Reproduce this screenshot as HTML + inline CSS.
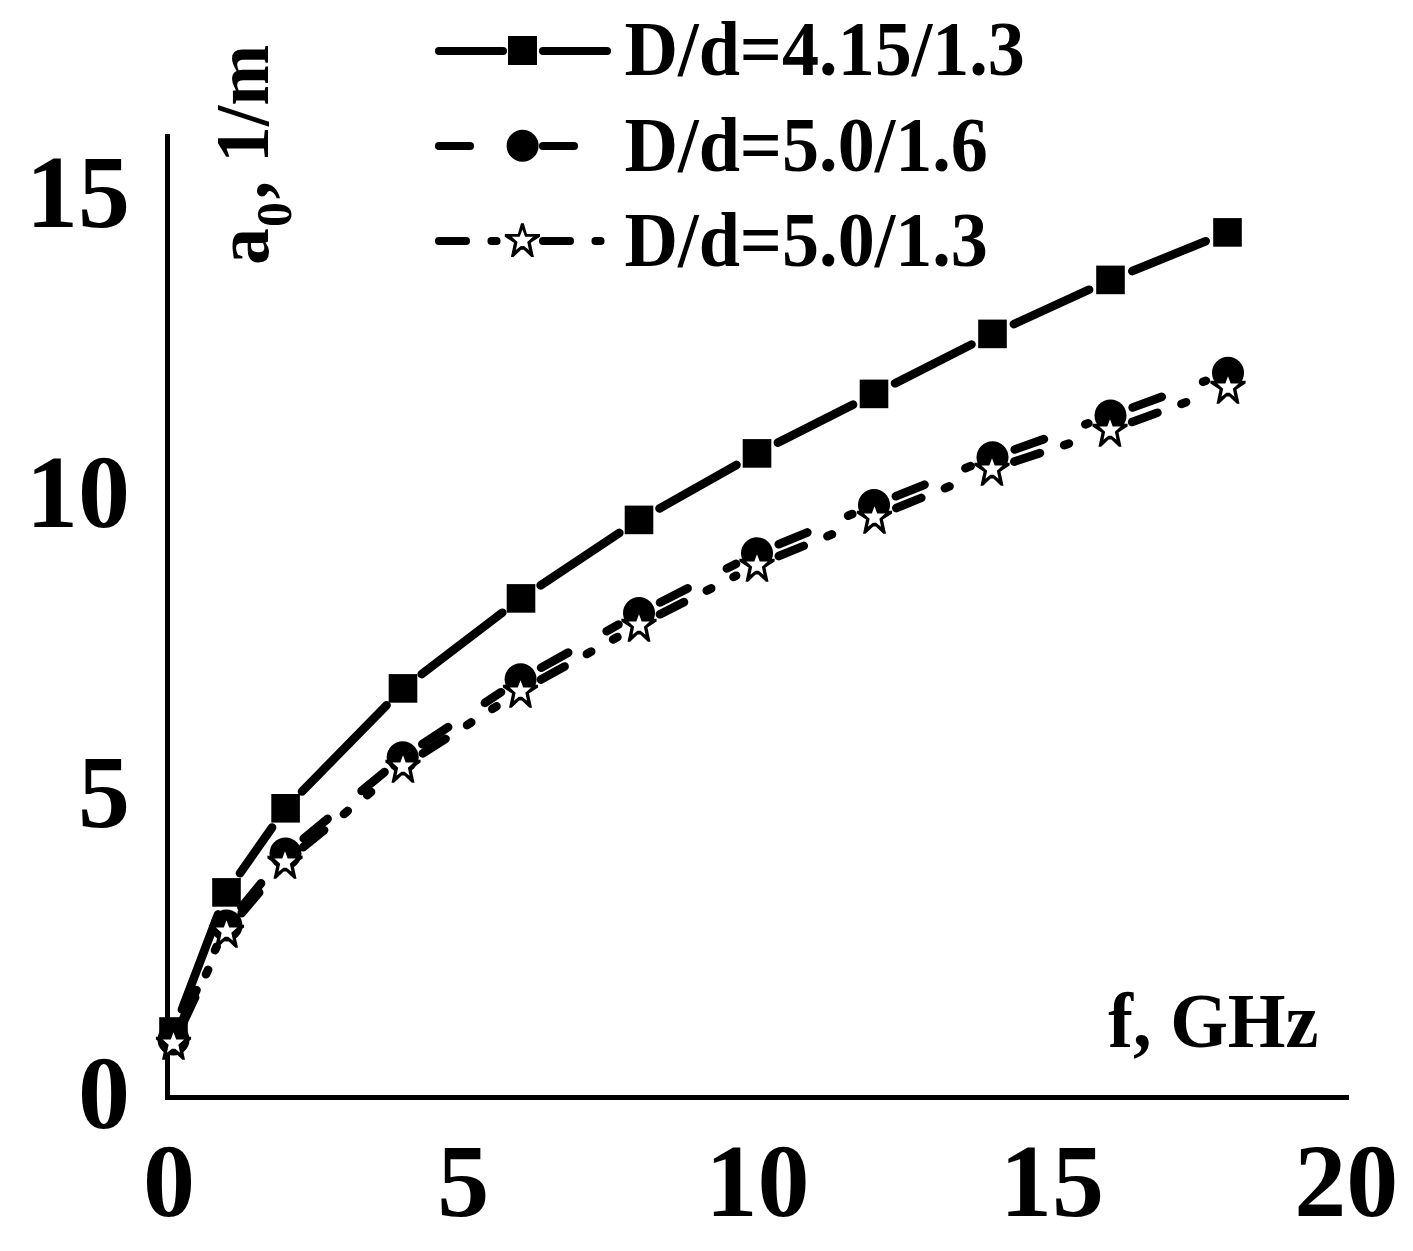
<!DOCTYPE html>
<html><head><meta charset="utf-8"><style>
html,body{margin:0;padding:0;background:#fff;}
svg{display:block;}
text{font-family:"Liberation Serif",serif;font-weight:bold;fill:#000;}
</style></head><body>
<svg width="1413" height="1251" viewBox="0 0 1413 1251">
<rect width="1413" height="1251" fill="#fff"/>
<rect x="165" y="134" width="5" height="966" fill="#000"/>
<rect x="165" y="1095" width="1184" height="5" fill="#000"/>
<text x="130" y="227" text-anchor="end" font-size="104">15</text>
<text x="130" y="527" text-anchor="end" font-size="104">10</text>
<text x="130" y="827" text-anchor="end" font-size="104">5</text>
<text x="130" y="1127.5" text-anchor="end" font-size="104">0</text>
<text x="169.0" y="1215.8" text-anchor="middle" font-size="104">0</text>
<text x="463.3" y="1215.8" text-anchor="middle" font-size="104">5</text>
<text x="757.6" y="1215.8" text-anchor="middle" font-size="104">10</text>
<text x="1051.9" y="1215.8" text-anchor="middle" font-size="104">15</text>
<text x="1346.2" y="1215.8" text-anchor="middle" font-size="104">20</text>
<text transform="translate(1108.3,1047) scale(0.958,1)" font-size="77.5">f, GHz</text>
<text transform="translate(268.2,265.1) rotate(-90) scale(0.96,1)" font-size="77">a</text>
<text transform="translate(290.5,226.9) rotate(-90)" font-size="50">0</text>
<text transform="translate(268.2,199.2) rotate(-90) scale(0.95,1)" font-size="77">, 1/m</text>
<text transform="translate(624.6,74.6) scale(0.956,1)" font-size="77.5">D/d=4.15/1.3</text>
<text transform="translate(624.6,170.9) scale(0.956,1)" font-size="77.5">D/d=5.0/1.6</text>
<text transform="translate(624.6,266.0) scale(0.956,1)" font-size="77.5">D/d=5.0/1.3</text>
<g stroke="#000" stroke-width="8.6" stroke-linecap="round" fill="none">
<line x1="181.9" y1="1009.5" x2="218.1" y2="914.4"/>
<line x1="240.0" y1="873.2" x2="272.1" y2="827.5"/>
<line x1="302.0" y1="791.5" x2="386.6" y2="705.2"/>
<line x1="421.7" y1="674.1" x2="502.3" y2="612.7"/>
<line x1="540.6" y1="585.4" x2="619.4" y2="532.9"/>
<line x1="659.5" y1="508.4" x2="736.5" y2="464.9"/>
<line x1="777.9" y1="442.7" x2="853.1" y2="404.6"/>
<line x1="895.0" y1="383.3" x2="971.5" y2="344.5"/>
<line x1="1013.9" y1="324.1" x2="1089.1" y2="289.7"/>
<line x1="1132.3" y1="271.1" x2="1205.7" y2="241.2"/>
</g>
<g fill="#000"><rect x="159.2" y="1017.2" width="28.6" height="28.6"/><rect x="212.2" y="878.1" width="28.6" height="28.6"/><rect x="271.3" y="794.0" width="28.6" height="28.6"/><rect x="388.7" y="674.1" width="28.6" height="28.6"/><rect x="506.7" y="584.1" width="28.6" height="28.6"/><rect x="624.7" y="505.6" width="28.6" height="28.6"/><rect x="742.7" y="439.1" width="28.6" height="28.6"/><rect x="859.7" y="379.6" width="28.6" height="28.6"/><rect x="978.2" y="319.6" width="28.6" height="28.6"/><rect x="1096.2" y="265.6" width="28.6" height="28.6"/><rect x="1213.2" y="218.1" width="28.6" height="28.6"/></g>
<g stroke="#000" stroke-width="8.6" stroke-linecap="round" fill="none">
<line x1="183.4" y1="1018.2" x2="216.6" y2="946.8" stroke-dasharray="31 44"/>
<line x1="241.4" y1="907.3" x2="270.6" y2="871.7" stroke-dasharray="31 44"/>
<line x1="303.7" y1="838.6" x2="384.5" y2="772.1" stroke-dasharray="31 44"/>
<line x1="422.3" y1="744.2" x2="501.0" y2="692.2" stroke-dasharray="31 44"/>
<line x1="541.1" y1="667.7" x2="618.5" y2="624.6" stroke-dasharray="31 44"/>
<line x1="660.0" y1="602.5" x2="736.0" y2="563.8" stroke-dasharray="31 44"/>
<line x1="778.7" y1="544.2" x2="852.3" y2="514.0" stroke-dasharray="31 44"/>
<line x1="895.8" y1="496.2" x2="970.7" y2="466.1" stroke-dasharray="31 44"/>
<line x1="1014.7" y1="449.5" x2="1088.3" y2="423.3" stroke-dasharray="31 44"/>
<line x1="1132.6" y1="407.5" x2="1205.9" y2="380.8" stroke-dasharray="31 44"/>
</g>
<g fill="#000"><circle cx="173.5" cy="1039.5" r="16.0"/><circle cx="226.5" cy="925.5" r="16.0"/><circle cx="285.5" cy="853.5" r="16.0"/><circle cx="402.7" cy="757.2" r="16.0"/><circle cx="520.6" cy="679.2" r="16.0"/><circle cx="639.0" cy="613.1" r="16.0"/><circle cx="757.0" cy="553.2" r="16.0"/><circle cx="874.0" cy="505.0" r="16.0"/><circle cx="992.5" cy="457.3" r="16.0"/><circle cx="1110.5" cy="415.5" r="16.0"/><circle cx="1228.0" cy="372.8" r="16.0"/></g>
<g stroke="#000" stroke-width="8.6" stroke-linecap="round" fill="none">
<line x1="183.6" y1="1021.8" x2="216.4" y2="952.2" stroke-dasharray="27 25.5 5 25 5 40"/>
<line x1="241.7" y1="913.1" x2="269.8" y2="879.9" stroke-dasharray="27 25.5 5 25 5 40"/>
<line x1="303.2" y1="847.2" x2="384.8" y2="780.8" stroke-dasharray="27 25.5 5 25 5 40"/>
<line x1="422.8" y1="753.4" x2="500.7" y2="703.6" stroke-dasharray="27 25.5 5 25 5 40"/>
<line x1="541.0" y1="679.6" x2="618.5" y2="636.4" stroke-dasharray="27 25.5 5 25 5 40"/>
<line x1="659.9" y1="614.3" x2="736.1" y2="575.7" stroke-dasharray="27 25.5 5 25 5 40"/>
<line x1="778.8" y1="556.1" x2="852.7" y2="525.9" stroke-dasharray="27 25.5 5 25 5 40"/>
<line x1="896.3" y1="508.1" x2="970.2" y2="477.9" stroke-dasharray="27 25.5 5 25 5 40"/>
<line x1="1014.3" y1="461.6" x2="1087.7" y2="437.4" stroke-dasharray="27 25.5 5 25 5 40"/>
<line x1="1132.1" y1="422.0" x2="1205.9" y2="395.0" stroke-dasharray="27 25.5 5 25 5 40"/>
</g>
<g><polygon points="172.10,1025.90 174.90,1025.90 178.00,1036.86 191.10,1036.86 191.10,1039.50 181.95,1045.60 185.00,1059.76 182.40,1059.76 174.80,1052.56 172.20,1052.56 164.60,1059.76 162.00,1059.76 165.05,1045.60 155.90,1039.50 155.90,1036.86 169.00,1036.86" fill="#000"/><polygon points="173.50,1032.20 176.20,1039.56 184.15,1039.56 178.35,1044.86 180.05,1052.82 175.10,1048.66 171.90,1048.66 166.95,1052.82 168.65,1044.86 162.85,1039.56 170.80,1039.56" fill="#fff"/><polygon points="225.10,913.90 227.90,913.90 231.00,924.86 244.10,924.86 244.10,927.50 234.95,933.60 238.00,947.76 235.40,947.76 227.80,940.56 225.20,940.56 217.60,947.76 215.00,947.76 218.05,933.60 208.90,927.50 208.90,924.86 222.00,924.86" fill="#000"/><polygon points="226.50,920.20 229.20,927.56 237.15,927.56 231.35,932.86 233.05,940.82 228.10,936.66 224.90,936.66 219.95,940.82 221.65,932.86 215.85,927.56 223.80,927.56" fill="#fff"/><polygon points="283.60,844.90 286.40,844.90 289.50,855.86 302.60,855.86 302.60,858.50 293.45,864.60 296.50,878.76 293.90,878.76 286.30,871.56 283.70,871.56 276.10,878.76 273.50,878.76 276.55,864.60 267.40,858.50 267.40,855.86 280.50,855.86" fill="#000"/><polygon points="285.00,851.20 287.70,858.56 295.65,858.56 289.85,863.86 291.55,871.82 286.60,867.66 283.40,867.66 278.45,871.82 280.15,863.86 274.35,858.56 282.30,858.56" fill="#fff"/><polygon points="401.60,748.90 404.40,748.90 407.50,759.86 420.60,759.86 420.60,762.50 411.45,768.60 414.50,782.76 411.90,782.76 404.30,775.56 401.70,775.56 394.10,782.76 391.50,782.76 394.55,768.60 385.40,762.50 385.40,759.86 398.50,759.86" fill="#000"/><polygon points="403.00,755.20 405.70,762.56 413.65,762.56 407.85,767.86 409.55,775.82 404.60,771.66 401.40,771.66 396.45,775.82 398.15,767.86 392.35,762.56 400.30,762.56" fill="#fff"/><polygon points="519.10,673.90 521.90,673.90 525.00,684.86 538.10,684.86 538.10,687.50 528.95,693.60 532.00,707.76 529.40,707.76 521.80,700.56 519.20,700.56 511.60,707.76 509.00,707.76 512.05,693.60 502.90,687.50 502.90,684.86 516.00,684.86" fill="#000"/><polygon points="520.50,680.20 523.20,687.56 531.15,687.56 525.35,692.86 527.05,700.82 522.10,696.66 518.90,696.66 513.95,700.82 515.65,692.86 509.85,687.56 517.80,687.56" fill="#fff"/><polygon points="637.60,607.90 640.40,607.90 643.50,618.86 656.60,618.86 656.60,621.50 647.45,627.60 650.50,641.76 647.90,641.76 640.30,634.56 637.70,634.56 630.10,641.76 627.50,641.76 630.55,627.60 621.40,621.50 621.40,618.86 634.50,618.86" fill="#000"/><polygon points="639.00,614.20 641.70,621.56 649.65,621.56 643.85,626.86 645.55,634.82 640.60,630.66 637.40,630.66 632.45,634.82 634.15,626.86 628.35,621.56 636.30,621.56" fill="#fff"/><polygon points="755.60,547.90 758.40,547.90 761.50,558.86 774.60,558.86 774.60,561.50 765.45,567.60 768.50,581.76 765.90,581.76 758.30,574.56 755.70,574.56 748.10,581.76 745.50,581.76 748.55,567.60 739.40,561.50 739.40,558.86 752.50,558.86" fill="#000"/><polygon points="757.00,554.20 759.70,561.56 767.65,561.56 761.85,566.86 763.55,574.82 758.60,570.66 755.40,570.66 750.45,574.82 752.15,566.86 746.35,561.56 754.30,561.56" fill="#fff"/><polygon points="873.10,499.90 875.90,499.90 879.00,510.86 892.10,510.86 892.10,513.50 882.95,519.60 886.00,533.76 883.40,533.76 875.80,526.56 873.20,526.56 865.60,533.76 863.00,533.76 866.05,519.60 856.90,513.50 856.90,510.86 870.00,510.86" fill="#000"/><polygon points="874.50,506.20 877.20,513.56 885.15,513.56 879.35,518.86 881.05,526.82 876.10,522.66 872.90,522.66 867.95,526.82 869.65,518.86 863.85,513.56 871.80,513.56" fill="#fff"/><polygon points="990.60,451.90 993.40,451.90 996.50,462.86 1009.60,462.86 1009.60,465.50 1000.45,471.60 1003.50,485.76 1000.90,485.76 993.30,478.56 990.70,478.56 983.10,485.76 980.50,485.76 983.55,471.60 974.40,465.50 974.40,462.86 987.50,462.86" fill="#000"/><polygon points="992.00,458.20 994.70,465.56 1002.65,465.56 996.85,470.86 998.55,478.82 993.60,474.66 990.40,474.66 985.45,478.82 987.15,470.86 981.35,465.56 989.30,465.56" fill="#fff"/><polygon points="1108.60,412.90 1111.40,412.90 1114.50,423.86 1127.60,423.86 1127.60,426.50 1118.45,432.60 1121.50,446.76 1118.90,446.76 1111.30,439.56 1108.70,439.56 1101.10,446.76 1098.50,446.76 1101.55,432.60 1092.40,426.50 1092.40,423.86 1105.50,423.86" fill="#000"/><polygon points="1110.00,419.20 1112.70,426.56 1120.65,426.56 1114.85,431.86 1116.55,439.82 1111.60,435.66 1108.40,435.66 1103.45,439.82 1105.15,431.86 1099.35,426.56 1107.30,426.56" fill="#fff"/><polygon points="1226.60,369.90 1229.40,369.90 1232.50,380.86 1245.60,380.86 1245.60,383.50 1236.45,389.60 1239.50,403.76 1236.90,403.76 1229.30,396.56 1226.70,396.56 1219.10,403.76 1216.50,403.76 1219.55,389.60 1210.40,383.50 1210.40,380.86 1223.50,380.86" fill="#000"/><polygon points="1228.00,376.20 1230.70,383.56 1238.65,383.56 1232.85,388.86 1234.55,396.82 1229.60,392.66 1226.40,392.66 1221.45,396.82 1223.15,388.86 1217.35,383.56 1225.30,383.56" fill="#fff"/></g>
<g stroke="#000" stroke-width="8.1" stroke-linecap="round" fill="none"><line x1="439" y1="51" x2="503" y2="51"/><line x1="543" y1="51" x2="607" y2="51"/></g>
<rect x="508" y="36" width="29" height="29" fill="#000"/>
<g stroke="#000" stroke-width="8.1" stroke-linecap="round" fill="none"><line x1="439" y1="146" x2="503" y2="146" stroke-dasharray="31 44"/><line x1="543" y1="146" x2="607" y2="146" stroke-dasharray="31 44"/></g>
<circle cx="522.6" cy="145.8" r="16.0" fill="#000"/>
<g stroke="#000" stroke-width="8.1" stroke-linecap="round" fill="none"><line x1="439" y1="241" x2="503" y2="241" stroke-dasharray="27 25.5 5 25 5 40"/><line x1="543" y1="241" x2="607" y2="241" stroke-dasharray="27 25.5 5 25 5 40"/></g>
<polygon points="521.00,223.14 523.80,223.14 526.90,234.10 540.00,234.10 540.00,236.74 530.85,242.84 533.90,257.00 531.30,257.00 523.70,249.80 521.10,249.80 513.50,257.00 510.90,257.00 513.95,242.84 504.80,236.74 504.80,234.10 517.90,234.10" fill="#000"/><polygon points="522.40,229.44 525.10,236.80 533.05,236.80 527.25,242.10 528.95,250.06 524.00,245.90 520.80,245.90 515.85,250.06 517.55,242.10 511.75,236.80 519.70,236.80" fill="#fff"/>
</svg>
</body></html>
